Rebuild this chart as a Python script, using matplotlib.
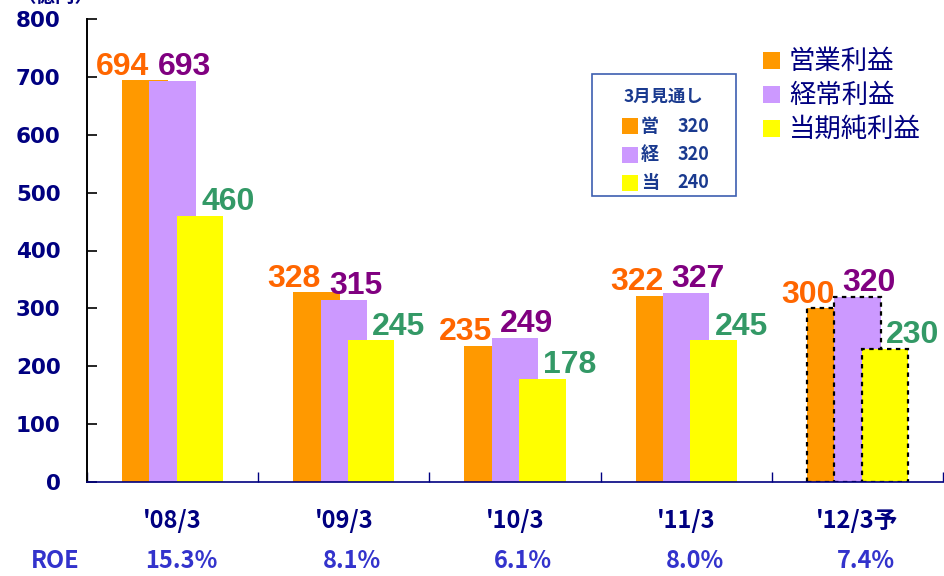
import matplotlib
matplotlib.use("Agg")
import matplotlib.pyplot as plt
from matplotlib.patches import Rectangle
import numpy as np

plt.rcParams["font.family"] = ["Noto Sans CJK JP", "DejaVu Sans"]

# data
years = ["'08/3", "'09/3", "'10/3", "'11/3", "'12/3予"]
eigyo = [694, 328, 235, 322, 300]      # 営業利益
keijo = [693, 315, 249, 327, 320]      # 経常利益
junri = [460, 245, 178, 245, 230]      # 当期純利益
roe = ["15.3%", "8.1%", "6.1%", "8.0%", "7.4%"]
series_names = ["営業利益", "経常利益", "当期純利益"]
outlook_keys = ["営", "経", "当"]
outlook_vals = [320, 320, 240]

NAVY = "#000080"
C_OR, C_PU, C_YE = "#ff9900", "#cc99ff", "#ffff00"
L_OR, L_PU, L_GR = "#ff6600", "#800080", "#339966"
BOXBLUE = "#1a3a8f"

fig = plt.figure(figsize=(9.44, 5.76), dpi=100)
ax = fig.add_axes([87 / 944, 94 / 576, 856 / 944, 463 / 576])

x = np.arange(len(years))
w, off = 0.27, 0.16
forecast = len(years) - 1

for vals, dx, col in [(eigyo, -off, C_OR), (keijo, 0, C_PU), (junri, off, C_YE)]:
    bars = ax.bar(x + dx, vals, w, color=col, zorder=2)
    bars[forecast].set_edgecolor("black")
    bars[forecast].set_linestyle((0, (2, 2)))
    bars[forecast].set_linewidth(1.6)

# value labels
for vals, dx, col, shift in [(eigyo, -off, L_OR, -16), (keijo, 0, L_PU, 8.5),
                             (junri, off, L_GR, 20)]:
    for i, v in enumerate(vals):
        ax.annotate(str(v), xy=(x[i] + dx, v), xytext=(shift, 4),
                    textcoords="offset points", ha="center", va="baseline",
                    fontsize=23, fontweight="bold", color=col, zorder=5,
                    family=["Liberation Sans", "DejaVu Sans"])

ax.set_xlim(-0.5, len(years) - 0.5)
ax.set_ylim(0, 800)
ax.set_yticks(np.arange(0, 801, 100))
ax.tick_params(axis="y", direction="in", length=7, width=1.2, color="black",
               pad=19, labelsize=15.5, labelcolor=NAVY)
for lab in ax.get_yticklabels():
    lab.set_fontweight("bold")
    lab.set_family(["DejaVu Sans"])
ax.set_xticks(np.arange(-0.5, len(years)), [""] * (len(years) + 1))
ax.tick_params(axis="x", direction="in", length=7, width=1, color=NAVY)
ax.spines["top"].set_visible(False)
ax.spines["right"].set_visible(False)
ax.spines["left"].set_linewidth(1.4)
ax.spines["bottom"].set_color(NAVY)
ax.spines["bottom"].set_linewidth(1.2)

# category labels and ROE row
for i, (yr, r) in enumerate(zip(years, roe)):
    ax.annotate(yr, xy=(x[i], 0), xycoords=("data", "axes fraction"),
                xytext=(0, -28), textcoords="offset points", ha="center",
                va="center", fontsize=17, fontweight="bold", color=NAVY)
    ax.annotate(r, xy=(x[i], 0), xycoords=("data", "axes fraction"),
                xytext=(6, -57), textcoords="offset points", ha="center",
                va="center", fontsize=17, color="#3333cc", fontweight="bold")

# overlay in pixel coordinates for legends and extra text
ov = fig.add_axes([0, 0, 1, 1])
ov.set_xlim(0, 944)
ov.set_ylim(576, 0)
ov.axis("off")
ov.patch.set_alpha(0)

ov.text(55, 561, "ROE", ha="center", va="center", fontsize=17, color="#3333cc",
        fontweight="bold")
ov.text(55, -4, "（億円）", ha="center", va="center", fontsize=14,
        fontweight="bold", color=NAVY)

# main legend
cols = [C_OR, C_PU, C_YE]
for k, (name, col) in enumerate(zip(series_names, cols)):
    yc = 61 + 34 * k
    ov.add_patch(Rectangle((763, yc - 9), 17, 17, facecolor=col, edgecolor="none"))
    ov.text(789, yc, name, ha="left", va="center", fontsize=19, color=NAVY)

# 3月見通し box
ov.add_patch(Rectangle((592, 74), 144, 122, facecolor="white", edgecolor="#3d5fb0",
                       linewidth=1.2))
ov.text(663, 97, "3月見通し", ha="center", va="center", fontsize=12.5,
        fontweight="bold", color=BOXBLUE)
for k, (key, val, col) in enumerate(zip(outlook_keys, outlook_vals, cols)):
    yc = 126 + 28.5 * k
    ov.add_patch(Rectangle((622, yc - 8), 16, 16, facecolor=col, edgecolor="none"))
    ov.text(641, yc, key, ha="left", va="center", fontsize=13, fontweight="bold",
            color=BOXBLUE)
    ov.text(709, yc, str(val), ha="right", va="center", fontsize=13,
            fontweight="bold", color=BOXBLUE)

fig.savefig("out.png", dpi=100, facecolor="white")
